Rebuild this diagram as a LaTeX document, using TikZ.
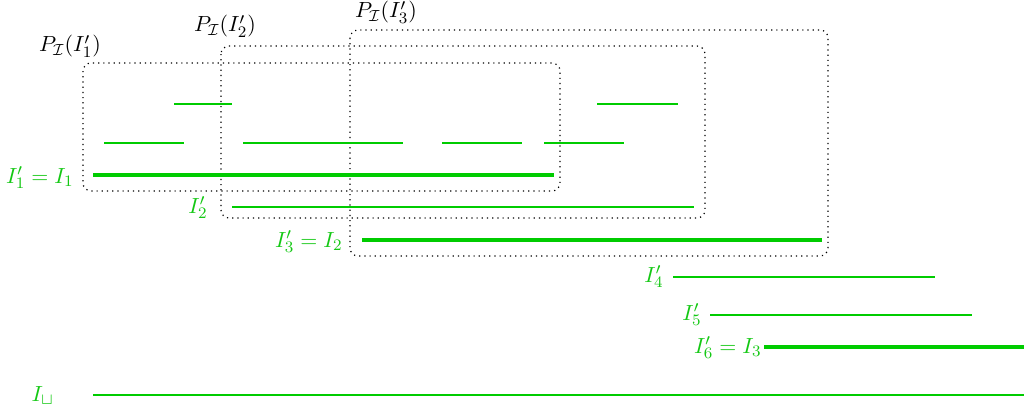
\documentclass[tikz,border=0pt]{standalone}
\usepackage{amssymb}
\definecolor{ivgreen}{RGB}{0,204,0}
\definecolor{lblgreen}{RGB}{20,200,20}
\begin{document}
\begin{tikzpicture}[x=0.5pt,y=-0.5pt,
  font=\fontsize{10.9}{13}\selectfont,
  thickseg/.style={color=ivgreen,line width=1.7pt},
  thinseg/.style={color=ivgreen,line width=0.55pt},
  pbox/.style={draw=black,dotted,line width=0.6pt,rounded corners=4pt},
  lbl/.style={text=lblgreen,inner sep=0pt,anchor=base east},
  plbl/.style={text=black,inner sep=0pt,anchor=base}]
\useasboundingbox (0,0) rectangle (1024,412);
% boxes
\draw[pbox] (83,63) rectangle (560,191);
\draw[pbox] (221,46) rectangle (705,218);
\draw[pbox] (350,30) rectangle (828,256);
% box labels
\node[plbl] (p1) at (70,52) {$P_{\mathcal{I}}(I'_1)$};
\node[plbl] (p2) at (225,32) {$P_{\mathcal{I}}(I'_2)$};
\node[plbl] (p3) at (386,18) {$P_{\mathcal{I}}(I'_3)$};
% interval labels
\node[lbl] (l1) at (74,183) {$I'_1=I_1$};
\node[lbl] (l2) at (208,213) {$I'_2$};
\node[lbl] (l3) at (343,247) {$I'_3=I_2$};
\node[lbl] (l4) at (664,282) {$I'_4$};
\node[lbl] (l5) at (702,320) {$I'_5$};
\node[lbl] (l6) at (762,353) {$I'_6=I_3$};
\node[lbl] (lu) at (54,401) {$I_{\sqcup}$};
% intervals
\draw[thickseg] (93,175) -- (554,175);
\draw[thinseg] (232,207) -- (694,207);
\draw[thickseg] (362,240) -- (822,240);
\draw[thinseg] (673,277) -- (935,277);
\draw[thinseg] (710,315) -- (972,315);
\draw[thickseg] (764,347) -- (1024,347);
\draw[thinseg] (93,395) -- (1024,395);
% other intervals
\draw[thinseg] (104,143) -- (184,143);
\draw[thinseg] (243,143) -- (403,143);
\draw[thinseg] (442,143) -- (522,143);
\draw[thinseg] (544,143) -- (624,143);
\draw[thinseg] (174,104) -- (232,104);
\draw[thinseg] (597,104) -- (678,104);
\end{tikzpicture}
\end{document}
